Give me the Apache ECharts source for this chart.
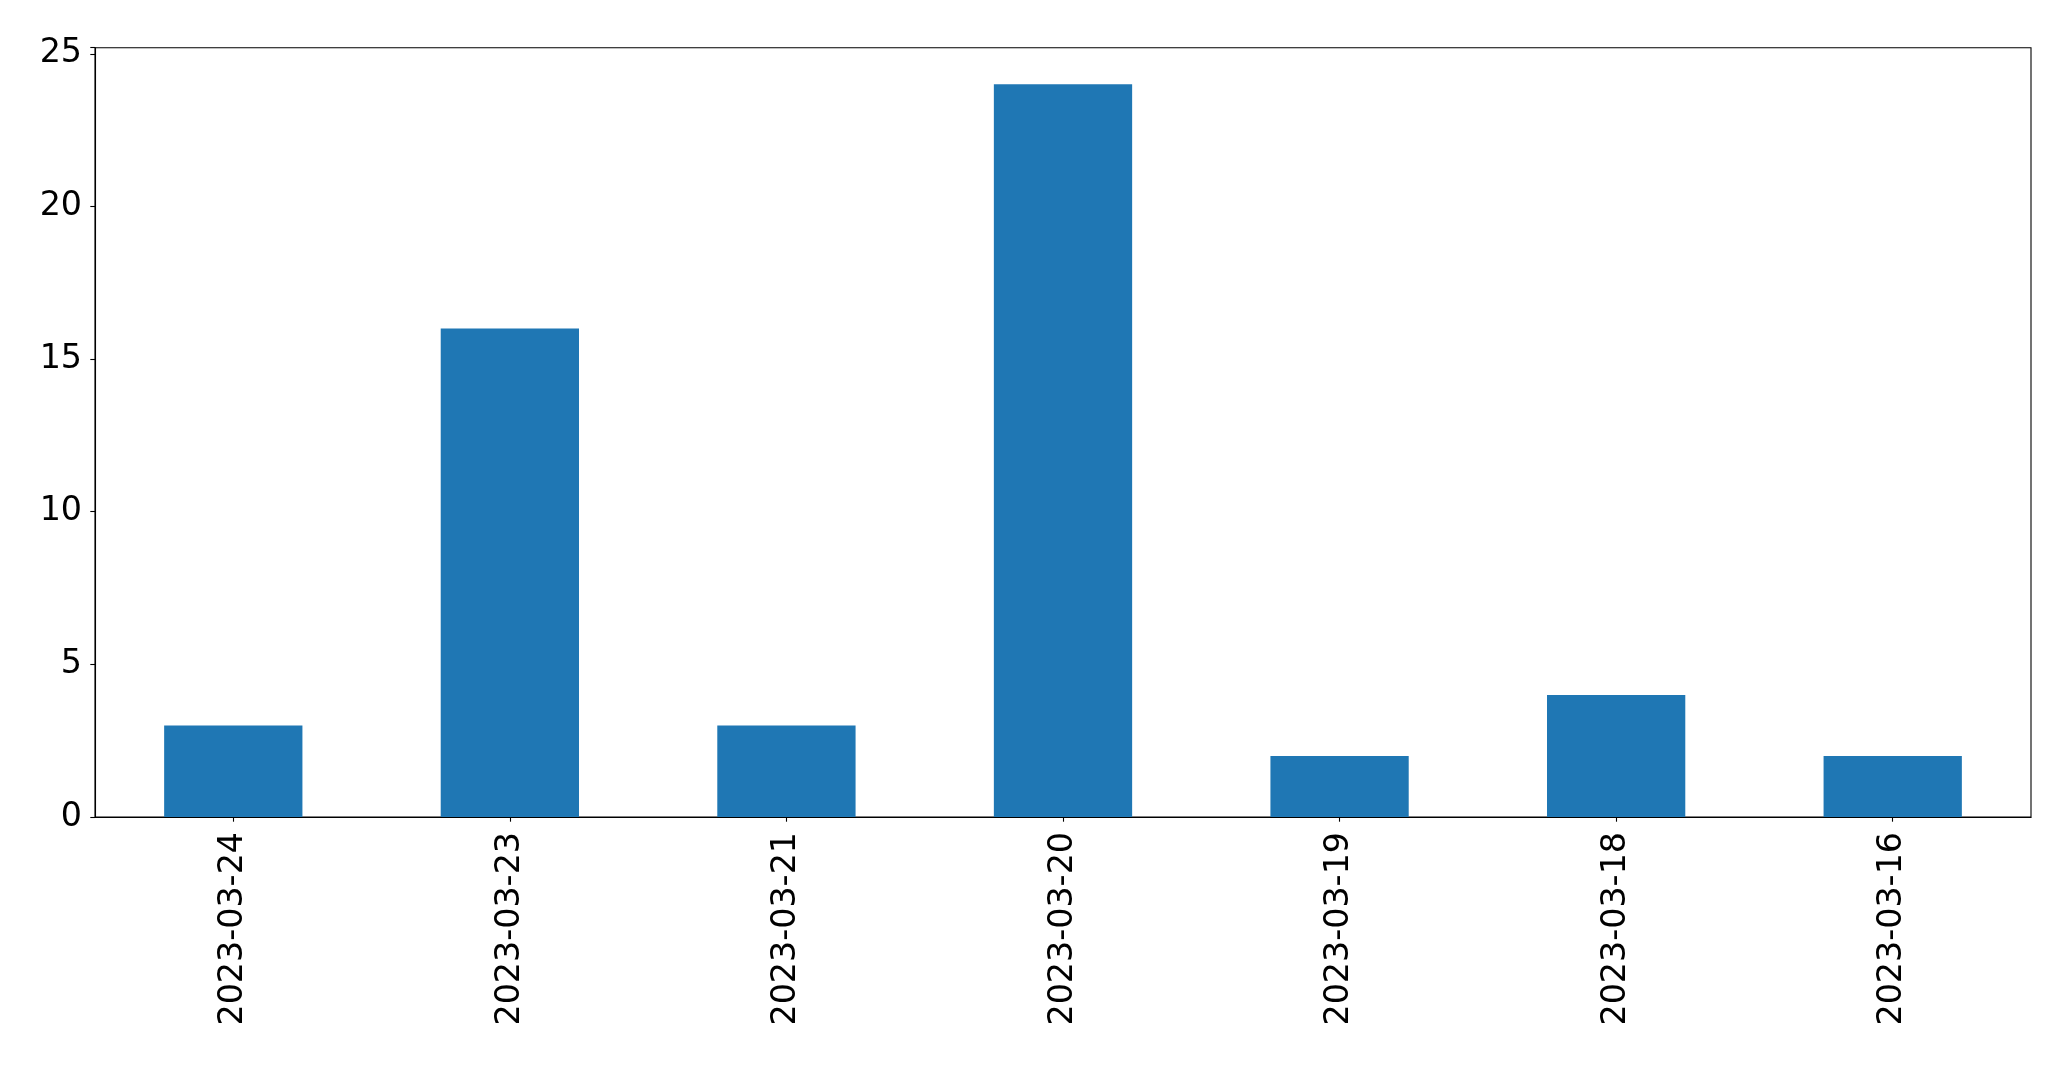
<!DOCTYPE html>
<html>
<head>
<meta charset="utf-8">
<script src="https://cdn.jsdelivr.net/npm/echarts@6/dist/echarts.min.js"></script>
<style>
html,body{margin:0;padding:0;background:#fff;}
#chart{width:2071px;height:1069px;}
</style>
</head>
<body>
<div id="chart"></div>
<script>
const categories = ['2023-03-24','2023-03-23','2023-03-21','2023-03-20','2023-03-19','2023-03-18','2023-03-16'];
const values = [3, 16, 3, 24, 2, 4, 2];
const yTicks = [0, 5, 10, 15, 20, 25];

const chart = echarts.init(document.getElementById('chart'), null, {renderer: 'canvas'});
const font = 'DejaVu Sans';
chart.setOption({
  animation: false,
  backgroundColor: '#ffffff',
  grid: {left: 95, right: 40, top: 47.7, bottom: 252, show: true, borderColor: '#000', borderWidth: 1.1, backgroundColor: 'transparent'},
  xAxis: {
    type: 'category',
    data: categories,
    boundaryGap: true,
    axisLine: {show: true, lineStyle: {color: '#000', width: 1.1}},
    axisTick: {show: true, alignWithLabel: true, length: 4.7, lineStyle: {color: '#000', width: 1.1}},
    axisLabel: {rotate: 90, margin: 15, color: '#000', fontSize: 33.3, fontFamily: font, interval: 0},
    splitLine: {show: false}
  },
  yAxis: {
    type: 'value',
    min: 0,
    max: 25.2,
    interval: 5,
    axisLine: {show: true, lineStyle: {color: '#000', width: 1.1}},
    axisTick: {show: true, length: 4.7, lineStyle: {color: '#000', width: 1.1}},
    axisLabel: {
      margin: 13, color: '#000', fontSize: 33.3, fontFamily: font,
      formatter: function (v) { return yTicks.indexOf(v) >= 0 ? String(v) : ''; }
    },
    splitLine: {show: false}
  },
  series: [{
    type: 'bar',
    data: values,
    barWidth: '50%',
    itemStyle: {color: '#1f77b4'}
  }]
});
</script>
</body>
</html>
